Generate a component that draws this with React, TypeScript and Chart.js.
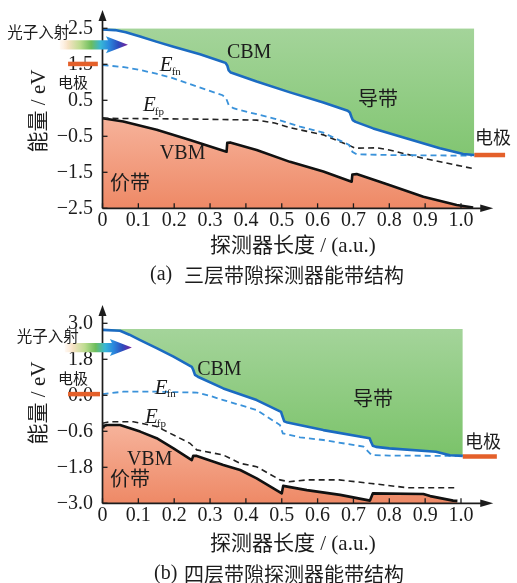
import React, { useEffect, useRef } from "react";
import { Chart, registerables } from "chart.js";

Chart.register(...registerables);

// ---- shared x axis (detector length, a.u.) ----
const xTicks = [0, 0.1, 0.2, 0.3, 0.4, 0.5, 0.6, 0.7, 0.8, 0.9, 1.0];
const xTickLabels = ["0", "0.1", "0.2", "0.3", "0.4", "0.5", "0.6", "0.7", "0.8", "0.9", "1.0"];

// ---- (a) three-layer band gap detector ----
const yTicksA = [-2.5, -1.5, -0.5, 0.5, 1.5, 2.5];
const yTickLabelsA = ["\u22122.5", "\u22121.5", "\u22120.5", "0.5", "1.5", "2.5"];
const cbTopA = 2.5;

const cbmXA = [0, 0.035, 0.065, 0.105, 0.15, 0.198, 0.272, 0.332, 0.343, 0.348, 0.352, 0.358, 0.43, 0.523, 0.616, 0.684, 0.69, 0.694, 0.698, 0.706, 0.755, 0.849, 0.941, 1.006, 1.037];
const cbmYA = [2.47, 2.45, 2.39, 2.27, 2.13, 1.99, 1.78, 1.58, 1.54, 1.47, 1.33, 1.27, 1.02, 0.72, 0.44, 0.21, 0.16, 0.05, -0.05, -0.1, -0.28, -0.56, -0.83, -0.99, -1.02];

const efnXA = [0, 0.021, 0.06, 0.105, 0.15, 0.198, 0.29, 0.335, 0.345, 0.352, 0.365, 0.383, 0.476, 0.551, 0.616, 0.688, 0.697, 0.709, 0.8, 1.03];
const efnYA = [1.48, 1.46, 1.42, 1.34, 1.24, 1.11, 0.79, 0.64, 0.55, 0.37, 0.28, 0.23, 0.0, -0.23, -0.4, -0.74, -0.93, -1.0, -1.02, -1.04];

const efpXA = [0, 0.244, 0.43, 0.48, 0.523, 0.616, 0.69, 0.704, 0.765, 0.8, 0.895, 1.03];
const efpYA = [0.0, -0.02, -0.05, -0.13, -0.26, -0.46, -0.76, -0.83, -0.82, -0.88, -1.11, -1.39];

const vbmXA = [0, 0.058, 0.151, 0.244, 0.346, 0.348, 0.356, 0.43, 0.523, 0.616, 0.695, 0.697, 0.709, 0.8, 0.895, 0.988, 1.034];
const vbmYA = [0.0, -0.09, -0.32, -0.6, -0.93, -0.68, -0.67, -0.88, -1.21, -1.48, -1.76, -1.56, -1.55, -1.85, -2.18, -2.41, -2.48];

const leftContactXA = [-0.096, -0.013];
const leftContactYA = [1.51, 1.51];
const rightContactXA = [1.037, 1.123];
const rightContactYA = [-1.02, -1.02];

// ---- (b) four-layer band gap detector ----
const yTicksB = [-3.0, -1.8, -0.6, 0.6, 1.8, 3.0];
const yTickLabelsB = ["\u22123.0", "\u22121.8", "\u22120.6", "0.0", "1.8", "3.0"];
const cbTopB = 2.81;

const cbmXB = [0, 0.049, 0.075, 0.105, 0.151, 0.198, 0.249, 0.253, 0.258, 0.266, 0.337, 0.43, 0.498, 0.502, 0.507, 0.516, 0.616, 0.745, 0.749, 0.754, 0.763, 0.8, 0.93, 0.969, 1.005];
const cbmYB = [2.78, 2.75, 2.62, 2.44, 2.17, 1.89, 1.55, 1.45, 1.28, 1.22, 0.83, 0.44, 0.05, -0.1, -0.27, -0.31, -0.56, -0.83, -0.95, -1.08, -1.12, -1.17, -1.28, -1.4, -1.42];

const efnXB = [0, 0.058, 0.151, 0.263, 0.3, 0.337, 0.43, 0.495, 0.503, 0.551, 0.616, 0.728, 0.75, 0.8, 0.988];
const efnYB = [0.64, 0.72, 0.72, 0.69, 0.58, 0.44, 0.11, -0.39, -0.67, -0.8, -0.89, -1.11, -1.39, -1.41, -1.42];

const efpXB = [0, 0.021, 0.086, 0.151, 0.244, 0.263, 0.337, 0.384, 0.43, 0.495, 0.52, 0.57, 0.66, 0.75, 0.85, 0.99];
const efpYB = [-0.33, -0.28, -0.28, -0.44, -1.0, -1.22, -1.39, -1.67, -1.78, -2.22, -2.28, -2.22, -2.22, -2.34, -2.48, -2.48];

const vbmXB = [0, 0.012, 0.049, 0.105, 0.151, 0.198, 0.249, 0.253, 0.263, 0.337, 0.384, 0.43, 0.5, 0.504, 0.57, 0.663, 0.746, 0.754, 0.895, 0.914, 0.978, 0.99];
const vbmYB = [-0.44, -0.39, -0.39, -0.61, -0.83, -1.17, -1.56, -1.42, -1.42, -1.72, -1.89, -2.17, -2.67, -2.42, -2.56, -2.72, -2.91, -2.67, -2.69, -2.76, -2.91, -2.92];

const leftContactXB = [-0.096, -0.007];
const leftContactYB = [0.64, 0.64];
const rightContactXB = [1.005, 1.1];
const rightContactYB = [-1.44, -1.44];

// ---- fonts & colours ----
const SERIF = "'Liberation Serif', 'Times New Roman', serif";
const CJK = "'Noto Sans CJK SC', sans-serif";
const MIXED = "'Liberation Serif', 'Noto Sans CJK SC', serif";
const INK = "#1c1c1c";

type Label = { text: string; x: number; y: number; font: "serif" | "cjk" | "E"; size: number; sub?: string };

const labelsA: Label[] = [
  { text: "光子入射", x: -0.266, y: 2.4, font: "cjk", size: 15.5 },
  { text: "电极", x: -0.124, y: 1.01, font: "cjk", size: 15 },
  { text: "CBM", x: 0.347, y: 1.81, font: "serif", size: 20 },
  { text: "E", sub: "fn", x: 0.16, y: 1.47, font: "E", size: 21 },
  { text: "E", sub: "fp", x: 0.113, y: 0.36, font: "E", size: 21 },
  { text: "VBM", x: 0.16, y: -0.98, font: "serif", size: 20 },
  { text: "价带", x: 0.021, y: -1.77, font: "cjk", size: 20 },
  { text: "导带", x: 0.713, y: 0.54, font: "cjk", size: 20 },
  { text: "电极", x: 1.039, y: -0.52, font: "cjk", size: 18 },
];

const labelsB: Label[] = [
  { text: "光子入射", x: -0.239, y: 2.58, font: "cjk", size: 15.5 },
  { text: "电极", x: -0.124, y: 1.18, font: "cjk", size: 15 },
  { text: "CBM", x: 0.264, y: 1.44, font: "serif", size: 20 },
  { text: "E", sub: "fn", x: 0.146, y: 0.84, font: "E", size: 21 },
  { text: "E", sub: "fp", x: 0.1185, y: -0.14, font: "E", size: 21 },
  { text: "VBM", x: 0.068, y: -1.54, font: "serif", size: 20 },
  { text: "价带", x: 0.021, y: -2.16, font: "cjk", size: 20 },
  { text: "导带", x: 0.699, y: 0.48, font: "cjk", size: 20 },
  { text: "电极", x: 1.011, y: -0.92, font: "cjk", size: 18 },
];

const W = 517;
const H = 288;
const AXIS_LEFT = 102.5;
const AREA_TOP = 28.3;
const AREA_BOTTOM = 208.3;
const X_MAX = 1.1;
const X_RIGHT = AXIS_LEFT + 358.5 * X_MAX;

type Panel = {
  top: number;
  yMin: number;
  yMax: number;
  yTicks: number[];
  yTickLabels: string[];
  cbTop: number;
  cbm: [number[], number[]];
  efn: [number[], number[]];
  efp: [number[], number[]];
  vbm: [number[], number[]];
  leftContact: [number[], number[]];
  rightContact: [number[], number[]];
  labels: Label[];
  photon: { x0: number; x1: number; y: number };
  tag: string;
  caption: string;
  tagX: number;
  captionX: number;
  xTitleY: number;
  captionY: number;
  yTitleY: number;
  vbmStartMarker: boolean;
};

const pts = (xs: number[], ys: number[]) => xs.map((x, i) => ({ x, y: ys[i] }));

function vGradient(chart: any, fromVal: number, toVal: number, c0: string, c1: string, fallback: string) {
  const { ctx, chartArea, scales } = chart;
  if (!chartArea) return fallback;
  const y0 = scales.y.getPixelForValue(fromVal);
  const y1 = scales.y.getPixelForValue(toVal);
  const g = ctx.createLinearGradient(0, y0, 0, y1);
  g.addColorStop(0, c0);
  g.addColorStop(1, c1);
  return g;
}

function makeDecor(p: Panel) {
  return {
    id: "bandDecor",
    afterDraw(chart: any) {
      const { ctx, chartArea: ca, scales } = chart;
      const xs = scales.x;
      const ys = scales.y;
      ctx.save();

      // axes with arrows
      const x0 = xs.getPixelForValue(0);
      const yb = ca.bottom;
      const xTip = xs.getPixelForValue(1.09);
      const yTip = ca.top - 18.3;
      ctx.strokeStyle = INK;
      ctx.fillStyle = INK;
      ctx.lineWidth = 1.7;
      ctx.beginPath();
      ctx.moveTo(x0, yb);
      ctx.lineTo(xTip - 8, yb);
      ctx.stroke();
      ctx.beginPath();
      ctx.moveTo(xTip, yb);
      ctx.lineTo(xTip - 13, yb - 3.8);
      ctx.lineTo(xTip - 13, yb + 3.8);
      ctx.closePath();
      ctx.fill();
      ctx.beginPath();
      ctx.moveTo(x0, yb);
      ctx.lineTo(x0, yTip + 8);
      ctx.stroke();
      ctx.beginPath();
      ctx.moveTo(x0, yTip);
      ctx.lineTo(x0 - 4, yTip + 11);
      ctx.lineTo(x0 + 4, yTip + 11);
      ctx.closePath();
      ctx.fill();

      // inward tick marks
      ctx.lineWidth = 1.3;
      xTicks.forEach((v) => {
        const px = xs.getPixelForValue(v);
        ctx.beginPath();
        ctx.moveTo(px, yb);
        ctx.lineTo(px, yb - 5);
        ctx.stroke();
      });
      p.yTicks.forEach((v) => {
        const py = ys.getPixelForValue(v);
        ctx.beginPath();
        ctx.moveTo(x0, py);
        ctx.lineTo(x0 + 5, py);
        ctx.stroke();
      });

      // incident photon arrow
      const ax0 = xs.getPixelForValue(p.photon.x0);
      const ax1 = xs.getPixelForValue(p.photon.x1);
      const ay = ys.getPixelForValue(p.photon.y);
      const g = ctx.createLinearGradient(ax0, 0, ax1, 0);
      g.addColorStop(0, "rgba(255,236,220,0.35)");
      g.addColorStop(0.12, "#f7e2c4");
      g.addColorStop(0.3, "#bcdc8f");
      g.addColorStop(0.46, "#6cbd5c");
      g.addColorStop(0.6, "#37b6d6");
      g.addColorStop(0.72, "#2a8ade");
      g.addColorStop(0.86, "#2d4cbd");
      g.addColorStop(1, "#7a1f9c");
      const head = 20;
      ctx.fillStyle = g;
      ctx.beginPath();
      ctx.moveTo(ax0, ay - 4.6);
      ctx.lineTo(ax1 - head, ay - 4.6);
      ctx.lineTo(ax1 - head - 2, ay - 8.5);
      ctx.lineTo(ax1, ay);
      ctx.lineTo(ax1 - head - 2, ay + 8.5);
      ctx.lineTo(ax1 - head, ay + 4.6);
      ctx.lineTo(ax0, ay + 4.6);
      ctx.closePath();
      ctx.fill();

      // labels in plot coordinates
      ctx.fillStyle = INK;
      ctx.textBaseline = "middle";
      ctx.textAlign = "left";
      p.labels.forEach((l) => {
        const px = xs.getPixelForValue(l.x);
        const py = ys.getPixelForValue(l.y);
        if (l.font === "E") {
          ctx.font = `italic ${l.size}px ${SERIF}`;
          ctx.fillText(l.text, px, py);
          const w = ctx.measureText(l.text).width;
          ctx.font = `11px ${SERIF}`;
          ctx.fillText(l.sub || "", px + w - 1, py + 6.5);
        } else {
          ctx.font = `${l.size}px ${l.font === "cjk" ? CJK : SERIF}`;
          ctx.fillText(l.text, px, py);
        }
      });

      // axis titles
      ctx.font = `21px ${MIXED}`;
      ctx.textAlign = "left";
      ctx.fillText("探测器长度 / (a.u.)", ca.left + 107.5, p.xTitleY);
      ctx.save();
      ctx.translate(39, p.yTitleY);
      ctx.rotate(-Math.PI / 2);
      ctx.textAlign = "center";
      ctx.fillText("能量 / eV", 0, 0);
      ctx.restore();

      // caption
      ctx.font = `20px ${SERIF}`;
      ctx.textAlign = "left";
      ctx.fillText(p.tag, p.tagX, p.captionY);
      ctx.font = `20px ${CJK}`;
      ctx.fillText(p.caption, p.captionX, p.captionY);

      ctx.restore();
    },
  };
}

function BandPanel({ p }: { p: Panel }) {
  const ref = useRef<HTMLCanvasElement>(null);
  useEffect(() => {
    const canvas = ref.current;
    if (!canvas) return;
    const tickFont = { family: SERIF, size: 20 };
    const line = { pointRadius: 0, tension: 0, fill: false };
    const chart = new Chart(canvas, {
      type: "line",
      data: {
        datasets: [
          {
            ...line,
            label: "CBM",
            data: pts(p.cbm[0], p.cbm[1]),
            borderColor: "#1b6bc1",
            borderWidth: 2.6,
            borderJoinStyle: "round",
            fill: { value: p.cbTop },
            backgroundColor: (c: any) => vGradient(c.chart, p.cbTop, p.cbTop - 4.2, "#a4d49a", "#7bc36a", "#8fcb82"),
          },
          {
            ...line,
            label: "Efn",
            data: pts(p.efn[0], p.efn[1]),
            borderColor: "#3a92da",
            borderWidth: 1.8,
            borderDash: [6, 4],
          },
          {
            ...line,
            label: "Efp",
            data: pts(p.efp[0], p.efp[1]),
            borderColor: "#222",
            borderWidth: 1.6,
            borderDash: [6, 4],
          },
          {
            ...line,
            label: "VBM",
            data: pts(p.vbm[0], p.vbm[1]),
            borderColor: "#111",
            borderWidth: 2.6,
            borderJoinStyle: "round",
            pointRadius: p.vbm[0].map((_, i) => (p.vbmStartMarker && i === 0 ? 3 : 0)),
            pointStyle: "rect",
            pointBackgroundColor: "#111",
            pointBorderWidth: 0,
            fill: "start",
            backgroundColor: (c: any) => vGradient(c.chart, p.vbm[1][0], p.yMin, "#f6b29a", "#ee8966", "#f29f80"),
          },
          {
            ...line,
            label: "contact-left",
            data: pts(p.leftContact[0], p.leftContact[1]),
            borderColor: "#e4602a",
            borderWidth: 4.5,
            clip: false,
          },
          {
            ...line,
            label: "contact-right",
            data: pts(p.rightContact[0], p.rightContact[1]),
            borderColor: "#e4602a",
            borderWidth: 4.5,
            clip: false,
          },
        ],
      },
      options: {
        animation: false,
        responsive: false,
        devicePixelRatio: 1,
        events: [],
        layout: { padding: { left: 0, top: AREA_TOP, right: W - X_RIGHT, bottom: 0 } },
        plugins: { legend: { display: false }, tooltip: { enabled: false } },
        scales: {
          x: {
            type: "linear",
            min: 0,
            max: X_MAX,
            grid: { display: false, drawTicks: false },
            border: { display: false },
            afterBuildTicks: (s: any) => {
              s.ticks = xTicks.map((v) => ({ value: v }));
            },
            afterFit: (s: any) => {
              s.height = H - AREA_BOTTOM;
            },
            ticks: {
              autoSkip: false,
              maxRotation: 0,
              padding: 0,
              color: INK,
              font: tickFont,
              callback: (_v: any, i: number) => xTickLabels[i],
            },
          },
          y: {
            type: "linear",
            min: p.yMin,
            max: p.yMax,
            grid: { display: false, drawTicks: false },
            border: { display: false },
            afterBuildTicks: (s: any) => {
              s.ticks = p.yTicks.map((v) => ({ value: v }));
            },
            afterFit: (s: any) => {
              s.width = AXIS_LEFT;
            },
            ticks: {
              autoSkip: false,
              padding: 9.5,
              color: INK,
              font: tickFont,
              callback: (_v: any, i: number) => p.yTickLabels[i],
            },
          },
        },
      },
      plugins: [makeDecor(p)],
    } as any);
    return () => chart.destroy();
  }, [p]);
  return (
    <canvas
      ref={ref}
      width={W}
      height={H}
      style={{ position: "absolute", left: 0, top: p.top, width: W, height: H }}
    />
  );
}

const panelA: Panel = {
  top: 0,
  yMin: -2.5,
  yMax: 2.5,
  yTicks: yTicksA,
  yTickLabels: yTickLabelsA,
  cbTop: cbTopA,
  cbm: [cbmXA, cbmYA],
  efn: [efnXA, efnYA],
  efp: [efpXA, efpYA],
  vbm: [vbmXA, vbmYA],
  leftContact: [leftContactXA, leftContactYA],
  rightContact: [rightContactXA, rightContactYA],
  labels: labelsA,
  photon: { x0: -0.119, x1: 0.071, y: 2.04 },
  tag: "(a)",
  caption: "三层带隙探测器能带结构",
  tagX: 150,
  captionX: 184,
  xTitleY: 246,
  captionY: 275,
  yTitleY: 111,
  vbmStartMarker: false,
};

const panelB: Panel = {
  top: 295,
  yMin: -3.0,
  yMax: 3.0,
  yTicks: yTicksB,
  yTickLabels: yTickLabelsB,
  cbTop: cbTopB,
  cbm: [cbmXB, cbmYB],
  efn: [efnXB, efnYB],
  efp: [efpXB, efpYB],
  vbm: [vbmXB, vbmYB],
  leftContact: [leftContactXB, leftContactYB],
  rightContact: [rightContactXB, rightContactYB],
  labels: labelsB,
  photon: { x0: -0.105, x1: 0.082, y: 2.19 },
  tag: "(b)",
  caption: "四层带隙探测器能带结构",
  tagX: 154,
  captionX: 184,
  xTitleY: 249,
  captionY: 279,
  yTitleY: 108,
  vbmStartMarker: true,
};

export default function App() {
  return (
    <div style={{ position: "absolute", left: 0, top: 0, width: W, height: 583, background: "#fff", overflow: "hidden" }}>
      <BandPanel p={panelA} />
      <BandPanel p={panelB} />
    </div>
  );
}
